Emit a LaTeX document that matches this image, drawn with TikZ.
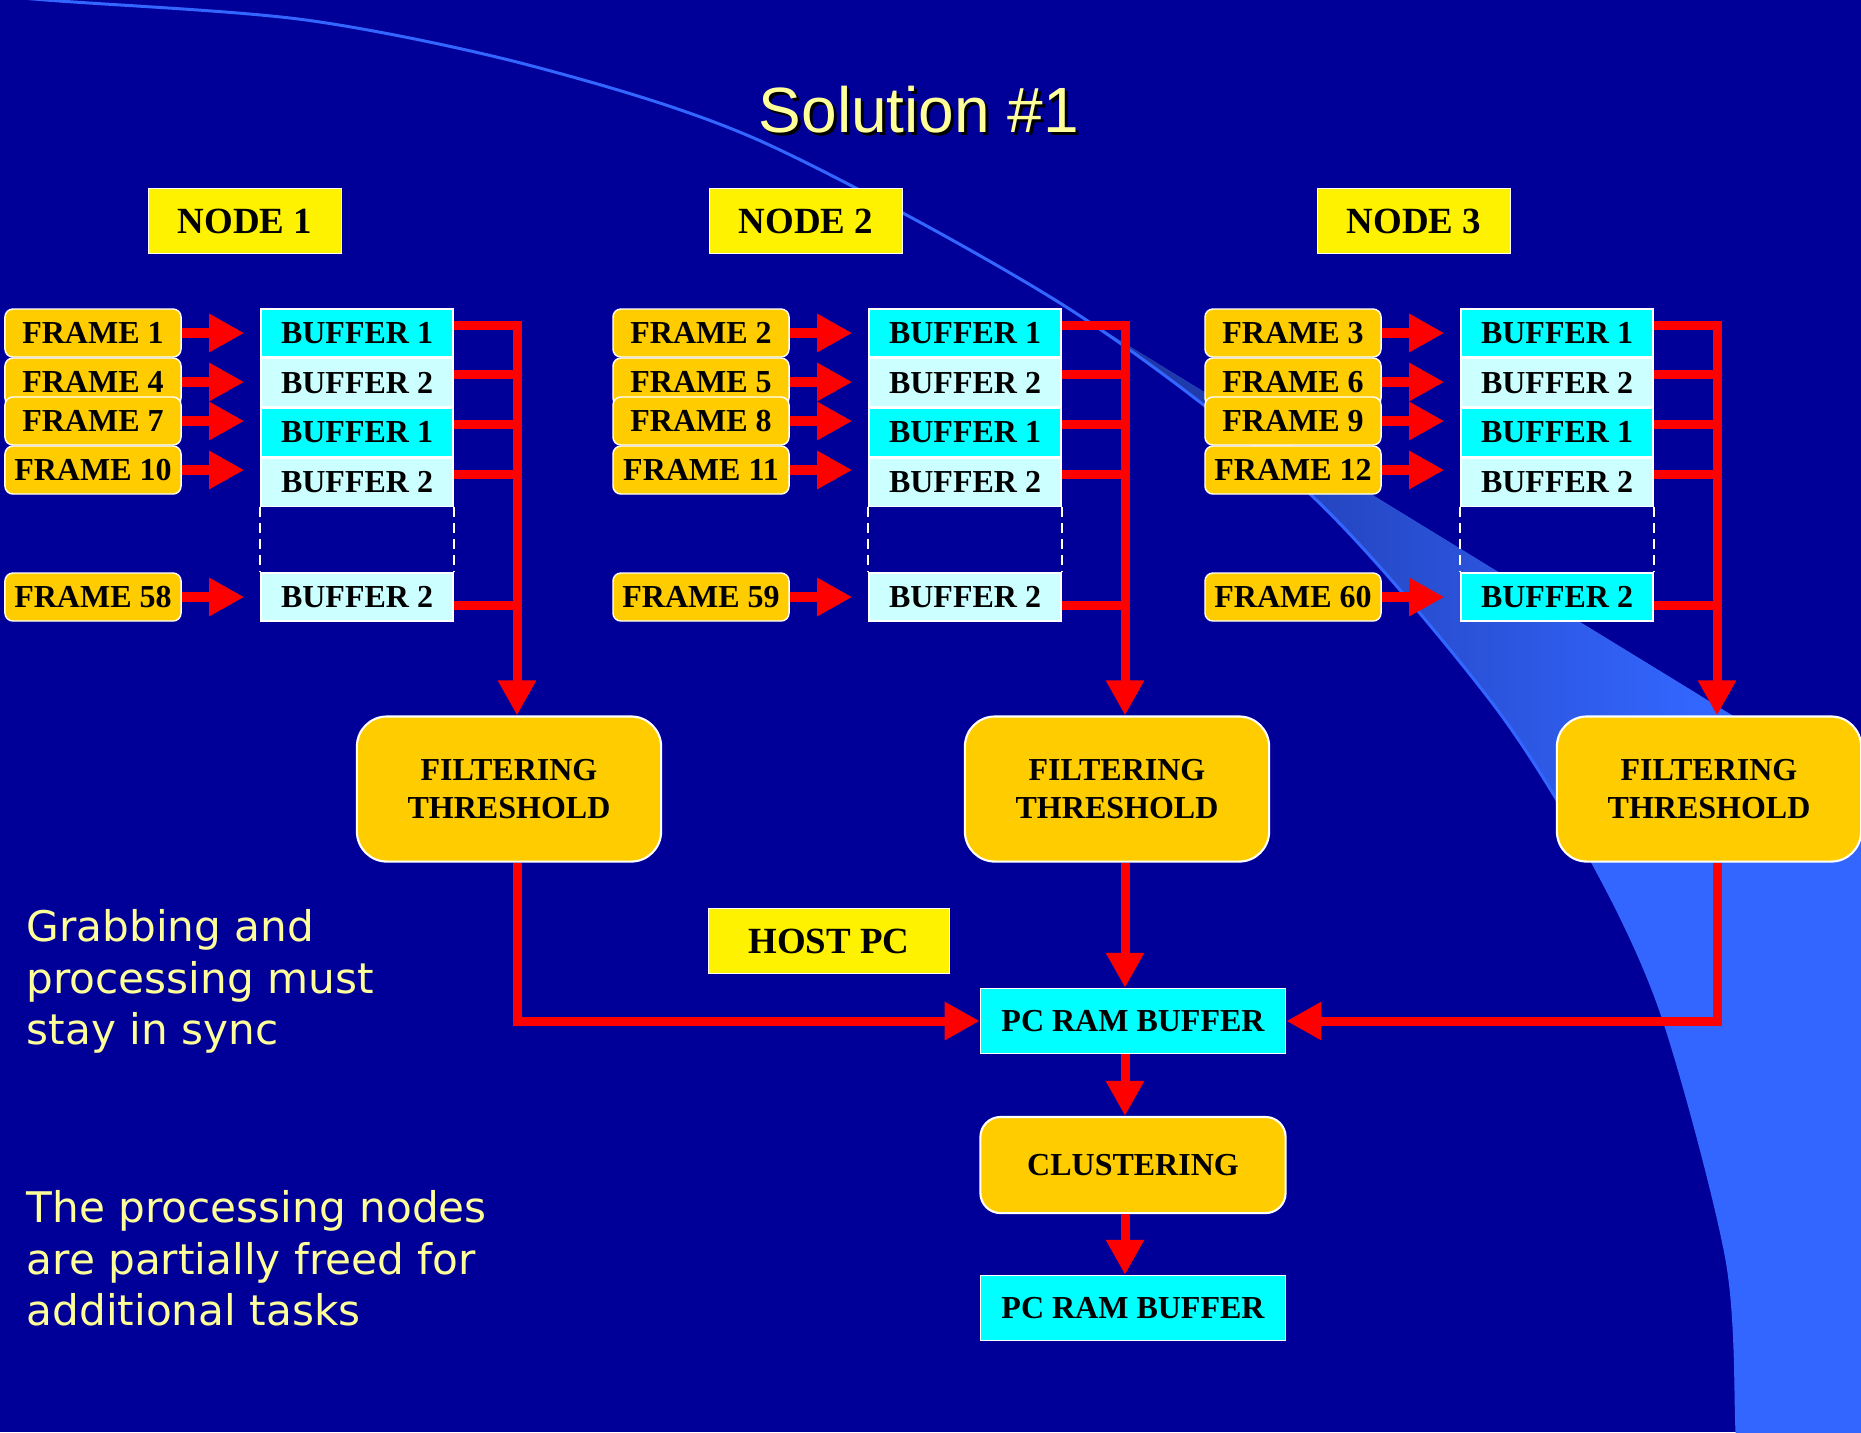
\documentclass[tikz,border=0pt]{standalone}
\usepackage{fontspec}
\setmainfont{Liberation Serif}
\newfontfamily\titlefont{Liberation Sans}
\newfontfamily\notefont{DejaVu Sans}
\usepackage{tikz}
\usetikzlibrary{positioning,arrows.meta}
\usepackage{xcolor}
\definecolor{bgblue}{HTML}{000099}
\definecolor{ltblue}{HTML}{3366FF}
\definecolor{wedge}{HTML}{1A2E94}
\definecolor{gold}{HTML}{FFCC00}
\definecolor{cyanlt}{HTML}{CCFFFF}
\definecolor{cyanhi}{HTML}{00FFFF}
\definecolor{ltyellow}{HTML}{FFFF99}
\newcommand\smallbf{\fontsize{9.1pt}{10.8pt}\selectfont\bfseries}
\newcommand\bigbf{\fontsize{10.5pt}{12.6pt}\selectfont\bfseries}

\begin{document}
\begin{tikzpicture}[x=0.01cm,y=-0.01cm,
	frm/.style={draw=white,line width=0.4pt,fill=gold,rounded corners=0.08cm,minimum width=1.76cm,minimum height=0.48cm,inner sep=0pt,font=\smallbf},
	buf/.style={draw=white,line width=0.4pt,fill=cyanlt,minimum width=1.92cm,minimum height=0.4825cm,inner sep=0pt,font=\smallbf},
	lbl/.style={draw=white,line width=0.4pt,fill=yellow,minimum width=1.93cm,minimum height=0.65cm,inner sep=0pt,font=\bigbf},
	flt/.style={draw=white,line width=0.6pt,fill=gold,rounded corners=0.3cm,minimum width=3.04cm,minimum height=1.45cm,align=center,font=\smallbf},
	redln/.style={red,line width=0.09cm},
	redarr/.style={redln,-{Triangle[length=0.35cm,width=0.36cm]}},
	sidenote/.style={text=ltyellow,font=\notefont\fontsize{12pt}{14.65pt}\selectfont,align=left,inner sep=0pt,anchor=north west}]
	\useasboundingbox (0,0) rectangle (1861,1432);
	\clip (0,0) rectangle (1861,1432);
	\fill[bgblue] (0,0) rectangle (1861,1432);
	% background swoosh
	\begin{scope}
		\clip (1000,267) -- (1900,818) -- (1900,1500) -- (1000,1500) -- cycle;
		\clip plot[smooth] coordinates {(-150,-16) (46,0) (306,20) (536,67) (765,143) (1071,310) (1309,493) (1490,700) (1593,863) (1663,1017) (1727,1260) (1737,1432) (1740,1500)} -- (1900,1500) -- (1900,-10) -- cycle;
		\fill[ltblue] (1000,0) rectangle (1900,1500);
		\shade[left color=wedge,right color=ltblue] (1040,250) rectangle (1700,860);
	\end{scope}
	\draw[ltblue,line width=0.03cm] plot[smooth] coordinates {(-150,-16) (46,0) (306,20) (536,67) (765,143) (1071,310) (1309,493) (1490,700) (1593,863) (1663,1017) (1727,1260) (1737,1432) (1740,1500)};
	\node[font=\titlefont\fontsize{18.2pt}{22pt}\selectfont,text=black] (tshadow) at (922,113) {Solution \#1};
	\node[font=\titlefont\fontsize{18.2pt}{22pt}\selectfont,text=ltyellow] (title) at (919,110) {Solution \#1};
	\foreach \c/\dx/\nx/\lf in {1/0/245/cyanlt,2/608/806/cyanlt,3/1200/1414/cyanhi}{
		\pgfmathtruncatemacro\fb{\c+3}
		\pgfmathtruncatemacro\fc{\c+6}
		\pgfmathtruncatemacro\fd{\c+9}
		\pgfmathtruncatemacro\fe{\c+57}
		\node[lbl] (n\c) at (\nx,221) {NODE \c};
		% incoming frames
		\node[frm] (fr\c-1) at ({93+\dx},333) {FRAME \c};
		\node[frm] (fr\c-2) at ({93+\dx},382) {FRAME \fb};
		\node[frm] (fr\c-3) at ({93+\dx},421) {FRAME \fc};
		\node[frm] (fr\c-4) at ({93+\dx},470) {FRAME \fd};
		\node[frm] (fr\c-6) at ({93+\dx},597) {FRAME \fe};
		% double buffer
		\node[buf,fill=cyanhi] (b\c-1) at ({357+\dx},333) {BUFFER 1};
		\node[buf,below=0pt of b\c-1] (b\c-2) {BUFFER 2};
		\node[buf,fill=cyanhi,below=0pt of b\c-2] (b\c-3) {BUFFER 1};
		\node[buf,below=0pt of b\c-3] (b\c-4) {BUFFER 2};
		\node[buf,fill=\lf] (b\c-6) at ({357+\dx},597) {BUFFER 2};
		\draw[white,line width=0.02cm,dash pattern=on 0.1cm off 0.06cm] (b\c-4.south west) -- (b\c-6.north west) (b\c-4.south east) -- (b\c-6.north east);
		\node[flt] (flt\c) at ({509+\dx},789) {FILTERING\\THRESHOLD};
		\coordinate (bus\c) at ([xshift=0.08cm]flt\c.north);
		\foreach \k in {1,2,3,4,6}
			\draw[redarr,line width=0.1cm,shorten >=0.16cm] (fr\c-\k.east) -- (fr\c-\k.east -| b\c-\k.west);
		\path ([yshift=0.08cm]b\c-1.east) coordinate (top\c);
		\draw[redarr] (top\c) -| (bus\c);
		\foreach \k in {2,3,4}{
			\path ([yshift=0.08cm]b\c-\k.east) coordinate (s);
			\draw[redln] (s) -- (s -| bus\c);
		}
		\path ([yshift=-0.08cm]b\c-6.east) coordinate (s);
		\draw[redln] (s) -- (s -| bus\c);
	}
	% host side
	\node[lbl,minimum width=2.41cm] (host) at (829,941) {HOST PC};
	\node[lbl,fill=cyanhi,minimum width=3.05cm,font=\smallbf] (ram1) at (1133,1021) {PC RAM BUFFER};
	\node[flt,rounded corners=0.2cm,minimum width=3.05cm,minimum height=0.96cm] (clu) at (1133,1165) {CLUSTERING};
	\node[lbl,fill=cyanhi,minimum width=3.05cm,font=\smallbf] (ram2) at (1133,1308) {PC RAM BUFFER};
	\draw[redarr] (bus1 |- flt1.south) |- (ram1.west);
	\draw[redarr] (bus2 |- flt2.south) -- (bus2 |- ram1.north);
	\draw[redarr] (bus3 |- flt3.south) |- (ram1.east);
	\draw[redarr] (bus2 |- ram1.south) -- (bus2 |- clu.north);
	\draw[redarr] (bus2 |- clu.south) -- (bus2 |- ram2.north);
	\node[sidenote] (sync) at (26,909) {Grabbing and\\processing must\\stay in sync};
	\node[sidenote] (freed) at (26,1190) {The processing nodes\\are partially freed for\\additional tasks};
\end{tikzpicture}
\end{document}
